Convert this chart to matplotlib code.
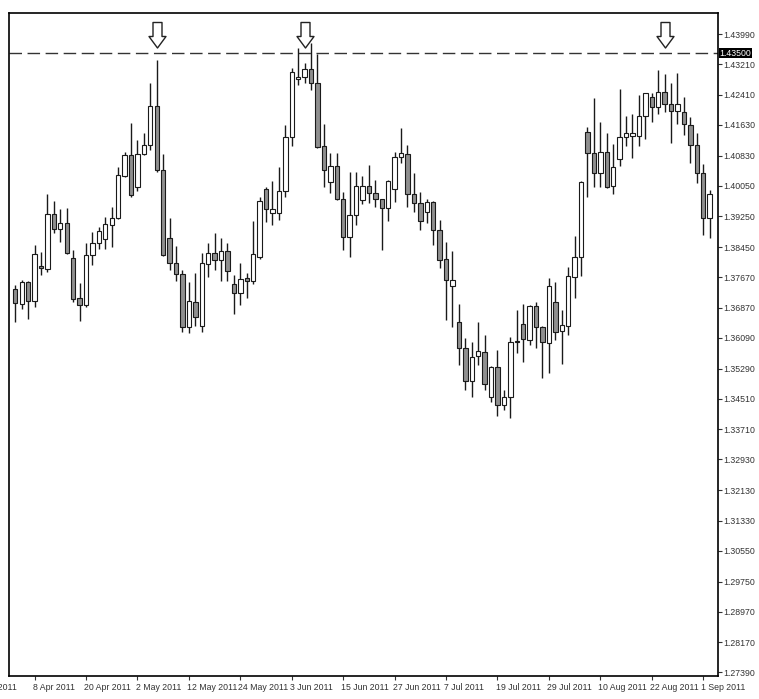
import numpy as np
import pandas as pd
import matplotlib
matplotlib.use("Agg")
import matplotlib.pyplot as plt
from matplotlib.path import Path

# 日线 OHLC（2011-04-05 至 2011-09-02，仅工作日）
opens = [1.3736, 1.3697, 1.3753, 1.3705, 1.3796, 1.3789, 1.3931, 1.3893, 1.3909, 1.3816,
         1.3712, 1.3695, 1.3824, 1.3855, 1.3866, 1.3903, 1.3920, 1.4031, 1.4085, 1.4001,
         1.4087, 1.4111, 1.4212, 1.4046, 1.3868, 1.3805, 1.3775, 1.3638, 1.3703, 1.3640,
         1.3801, 1.3831, 1.3812, 1.3835, 1.3749, 1.3725, 1.3764, 1.3758, 1.3820, 1.3996,
         1.3933, 1.3933, 1.3992, 1.4131, 1.4282, 1.4287, 1.4308, 1.4271, 1.4109, 1.4015,
         1.4057, 1.3970, 1.3872, 1.3929, 1.3968, 1.4005, 1.3985, 1.3970, 1.3946, 1.3996,
         1.4079, 1.4087, 1.3983, 1.3961, 1.3937, 1.3963, 1.3890, 1.3814, 1.3744, 1.3649,
         1.3582, 1.3498, 1.3563, 1.3573, 1.3455, 1.3533, 1.3435, 1.3456, 1.3601, 1.3645,
         1.3604, 1.3692, 1.3638, 1.3595, 1.3701, 1.3627, 1.3640, 1.3768, 1.3820, 1.4145,
         1.4089, 1.4037, 1.4093, 1.4004, 1.4074, 1.4132, 1.4135, 1.4134, 1.4186, 1.4235,
         1.4210, 1.4249, 1.4217, 1.4200, 1.4196, 1.4163, 1.4111, 1.4039, 1.3920]
highs = [1.3747, 1.3760, 1.3758, 1.3851, 1.3832, 1.3983, 1.3966, 1.3944, 1.3946, 1.3838,
         1.3752, 1.3855, 1.3884, 1.3898, 1.3923, 1.3950, 1.4053, 1.4093, 1.4167, 1.4124,
         1.4141, 1.4273, 1.4332, 1.4087, 1.3920, 1.3848, 1.3786, 1.3755, 1.3779, 1.3829,
         1.3855, 1.3881, 1.3868, 1.3857, 1.3773, 1.3805, 1.3779, 1.3914, 1.3975, 1.4002,
         1.4018, 1.4054, 1.4163, 1.4310, 1.4362, 1.4323, 1.4375, 1.4347, 1.4165, 1.4089,
         1.4091, 1.3989, 1.4041, 1.4041, 1.4030, 1.4059, 1.4020, 1.3970, 1.4020, 1.4093,
         1.4154, 1.4111, 1.4037, 1.3988, 1.3970, 1.3965, 1.3916, 1.3859, 1.3836, 1.3697,
         1.3608, 1.3599, 1.3650, 1.3617, 1.3536, 1.3578, 1.3474, 1.3612, 1.3682, 1.3697,
         1.3695, 1.3703, 1.3640, 1.3764, 1.3755, 1.3682, 1.3794, 1.3874, 1.4017, 1.4157,
         1.4232, 1.4171, 1.4141, 1.4113, 1.4256, 1.4186, 1.4191, 1.4241, 1.4247, 1.4247,
         1.4306, 1.4295, 1.4273, 1.4297, 1.4235, 1.4183, 1.4141, 1.4061, 1.3994]
lows = [1.3651, 1.3684, 1.3658, 1.3690, 1.3773, 1.3781, 1.3881, 1.3859, 1.3827, 1.3703,
        1.3653, 1.3690, 1.3799, 1.3840, 1.3840, 1.3845, 1.3918, 1.4028, 1.3976, 1.3991,
        1.4085, 1.4098, 1.4041, 1.3822, 1.3786, 1.3758, 1.3623, 1.3621, 1.3640, 1.3625,
        1.3767, 1.3786, 1.3758, 1.3758, 1.3671, 1.3695, 1.3712, 1.3749, 1.3814, 1.3911,
        1.3903, 1.3916, 1.3976, 1.4108, 1.4267, 1.4271, 1.4254, 1.4103, 1.4002, 1.3985,
        1.3968, 1.3838, 1.3819, 1.3903, 1.3957, 1.3959, 1.3950, 1.3838, 1.3913, 1.3962,
        1.4063, 1.3949, 1.3937, 1.3890, 1.3907, 1.3851, 1.3791, 1.3656, 1.3638, 1.3539,
        1.3474, 1.3455, 1.3539, 1.3474, 1.3441, 1.3406, 1.3422, 1.3400, 1.3569, 1.3547,
        1.3591, 1.3582, 1.3504, 1.3517, 1.3604, 1.3541, 1.3617, 1.3712, 1.3770, 1.3975,
        1.4002, 1.4002, 1.3998, 1.3983, 1.4056, 1.4108, 1.4076, 1.4108, 1.4126, 1.4171,
        1.4191, 1.4197, 1.4115, 1.4165, 1.4137, 1.4065, 1.4013, 1.3877, 1.3868]
closes = [1.3699, 1.3754, 1.3704, 1.3827, 1.3791, 1.3931, 1.3893, 1.3909, 1.3829, 1.3710,
          1.3695, 1.3825, 1.3855, 1.3888, 1.3905, 1.3920, 1.4033, 1.4085, 1.3981, 1.4087,
          1.4111, 1.4213, 1.4046, 1.3825, 1.3805, 1.3775, 1.3638, 1.3706, 1.3663, 1.3803,
          1.3829, 1.3812, 1.3835, 1.3784, 1.3725, 1.3762, 1.3758, 1.3827, 1.3966, 1.3944,
          1.3944, 1.3991, 1.4131, 1.4301, 1.4288, 1.4308, 1.4273, 1.4106, 1.4046, 1.4057,
          1.3970, 1.3872, 1.3929, 1.4005, 1.4005, 1.3985, 1.3970, 1.3946, 1.4018, 1.4079,
          1.4089, 1.3983, 1.3959, 1.3914, 1.3963, 1.3890, 1.3812, 1.3760, 1.3760, 1.3582,
          1.3498, 1.3560, 1.3575, 1.3489, 1.3533, 1.3435, 1.3456, 1.3597, 1.3599, 1.3606,
          1.3692, 1.3637, 1.3597, 1.3744, 1.3625, 1.3643, 1.3770, 1.3819, 1.4015, 1.4089,
          1.4037, 1.4093, 1.4002, 1.4054, 1.4132, 1.4143, 1.4143, 1.4186, 1.4245, 1.4210,
          1.4249, 1.4217, 1.4200, 1.4217, 1.4165, 1.4111, 1.4037, 1.3920, 1.3983]
start_date = '2011-04-05'

# 阻力线与箭头所指的K线（日期）
resistance = 1.4350
arrow_dates = ['2011-05-05', '2011-06-07', '2011-08-24']

# 坐标轴刻度
price_ticks = [1.43990, 1.43210, 1.42410, 1.41630, 1.40830, 1.40050, 1.39250, 1.38450,
               1.37670, 1.36870, 1.36090, 1.35290, 1.34510, 1.33710, 1.32930, 1.32130,
               1.31330, 1.30550, 1.29750, 1.28970, 1.28170, 1.27390]
date_ticks = ['2011-03-29', '2011-04-08', '2011-04-20', '2011-05-02', '2011-05-12',
              '2011-05-24', '2011-06-03', '2011-06-15', '2011-06-27', '2011-07-07',
              '2011-07-19', '2011-07-29', '2011-08-10', '2011-08-22', '2011-09-01']
date_labels = ['29 Mar 2011', '8 Apr 2011', '20 Apr 2011', '2 May 2011', '12 May 2011',
               '24 May 2011', '3 Jun 2011', '15 Jun 2011', '27 Jun 2011', '7 Jul 2011',
               '19 Jul 2011', '29 Jul 2011', '10 Aug 2011', '22 Aug 2011', '1 Sep 2011']

plt.rcParams['font.family'] = ['Liberation Sans', 'DejaVu Sans']
fs = 6.3

o = np.array(opens)
h = np.array(highs)
l = np.array(lows)
c = np.array(closes)
x = np.arange(len(o))

fig = plt.figure(figsize=(7.59, 6.99), dpi=100)
ax = fig.add_axes([9 / 759, 23 / 699, 709 / 759, 663 / 699])

# 影线 + 实体
ax.vlines(x, l, h, color='#1a1a1a', linewidth=1.0, zorder=2)
body_colors = np.where(c > o, 'white', '#8f8f8f')
ax.bar(x, np.abs(c - o), bottom=np.minimum(o, c), width=0.68,
       color=body_colors, edgecolor='#1a1a1a', linewidth=0.8, zorder=3)

# 阻力虚线
ax.axhline(resistance, color='#333333', linewidth=1.0, dashes=(9, 4), zorder=1)

# 空心向下箭头（自定义 marker，锚点在阻力线上）
arrow_verts = [(-4.5, 31), (4.5, 31), (4.5, 17), (8.5, 17), (0, 5.5),
               (-8.5, 17), (-4.5, 17), (-4.5, 31)]
arrow_path = Path(arrow_verts, closed=True)
arrow_x = [np.busday_count(start_date, d) for d in arrow_dates]
ax.plot(arrow_x, [resistance] * len(arrow_x), linestyle='none', marker=arrow_path,
        markersize=31 * 2 * 0.72, markerfacecolor='white', markeredgecolor='#222222',
        markeredgewidth=1.0, zorder=4, clip_on=False)

ax.set_xlim(-0.98, 109.3)
ax.set_ylim(1.27293, 1.44541)

# 右侧价格轴
ax.yaxis.tick_right()
ax.set_yticks(price_ticks)
ax.set_yticklabels([f'{p:.5f}' for p in price_ticks])
ax.tick_params(axis='y', direction='out', length=3, width=0.8, pad=0.5,
               labelsize=fs, labelcolor='#333333', color='#333333')
ax.text(1.0025, resistance, f'{resistance:.5f}', transform=ax.get_yaxis_transform(),
        ha='left', va='center', fontsize=fs, color='white',
        bbox=dict(facecolor='black', edgecolor='none', pad=0.6))

# 日期轴：标签左对齐于刻度（第一个标签在图外，只露出年份）
tick_pos = [np.busday_count(start_date, d) for d in date_ticks]
ax.set_xticks([p for p in tick_pos if p >= 0])
ax.set_xticklabels([])
ax.tick_params(axis='x', direction='out', length=3, width=0.8, color='#333333')
for p, lab in zip(tick_pos, date_labels):
    shift = -2.3 if p < 0 else -0.3
    ax.text(p + shift, -0.017, lab, transform=ax.get_xaxis_transform(), ha='left',
            va='center', fontsize=fs, color='#333333', clip_on=False)

for s in ax.spines.values():
    s.set_linewidth(1.2)
    s.set_color('black')

fig.savefig('out.png', dpi=100)
